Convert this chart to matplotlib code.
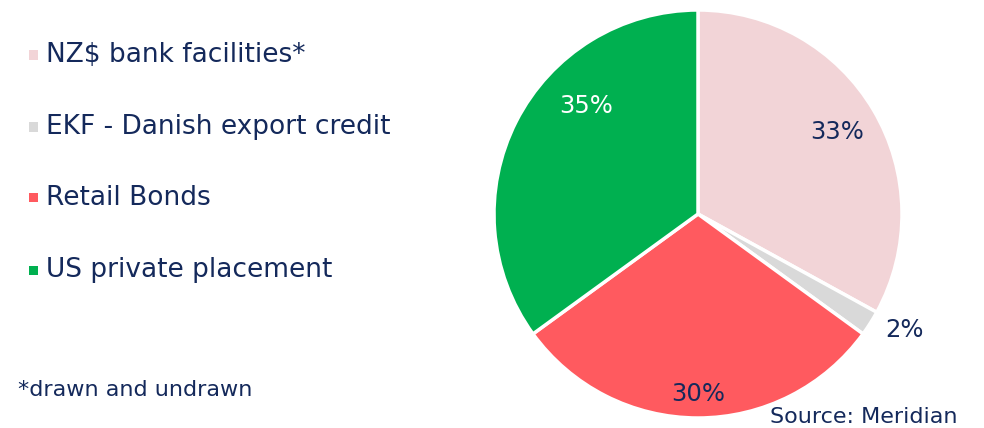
import numpy as np
import matplotlib
matplotlib.use("Agg")
import matplotlib.pyplot as plt
from matplotlib.patches import Rectangle

categories = ["NZ$ bank facilities*", "EKF - Danish export credit", "Retail Bonds", "US private placement"]
values = [33, 2, 30, 35]
colors = ["#F2D4D7", "#D9D9D9", "#FF5A5F", "#00B050"]
label_colors = ["#14295B", "#14295B", "#14295B", "#FFFFFF"]
navy = "#14295B"
footnote = "*drawn and undrawn"
source = "Source: Meridian"

plt.rcParams['font.family'] = ['DejaVu Sans']

W, H = 984, 428
fig = plt.figure(figsize=(W / 100, H / 100), dpi=100)

cx, cy, r = 698, 214, 204
ax = fig.add_axes([(cx - r) / W, (H - cy - r) / H, 2 * r / W, 2 * r / H])
wedges, _ = ax.pie(values, colors=colors, startangle=90, counterclock=False,
                   wedgeprops=dict(edgecolor="white", linewidth=2.5), radius=1.0)
ax.set_xlim(-1, 1)
ax.set_ylim(-1, 1)
ax.set_aspect("equal")
ax.axis("off")

# label placement (distance factor, angular offset in degrees)
dists = [0.79, 1.16, 0.88, 0.76]
offsets = [0, 3, 0, -17]
for w, v, c, d, o in zip(wedges, values, label_colors, dists, offsets):
    ang = np.deg2rad((w.theta1 + w.theta2) / 2 + o)
    ax.text(d * np.cos(ang), d * np.sin(ang), f"{v}%", ha="center", va="center",
            fontsize=17.5, color=c)

# legend
rows = [55, 127, 198, 270]
for name, col, y in zip(categories, colors, rows):
    fig.add_artist(Rectangle(((29) / W, (H - y - 4.5) / H), 9 / W, 9 / H,
                             transform=fig.transFigure, facecolor=col, edgecolor="none"))
    fig.text(46 / W, (H - y) / H, name, fontsize=19, color=navy, va="center", ha="left")

fig.text(18 / W, (H - 390) / H, footnote, fontsize=16, color=navy, va="center", ha="left")
fig.text(958 / W, (H - 417) / H, source, fontsize=16, color=navy, va="center", ha="right")

fig.savefig("out.png", dpi=100, facecolor="white")
